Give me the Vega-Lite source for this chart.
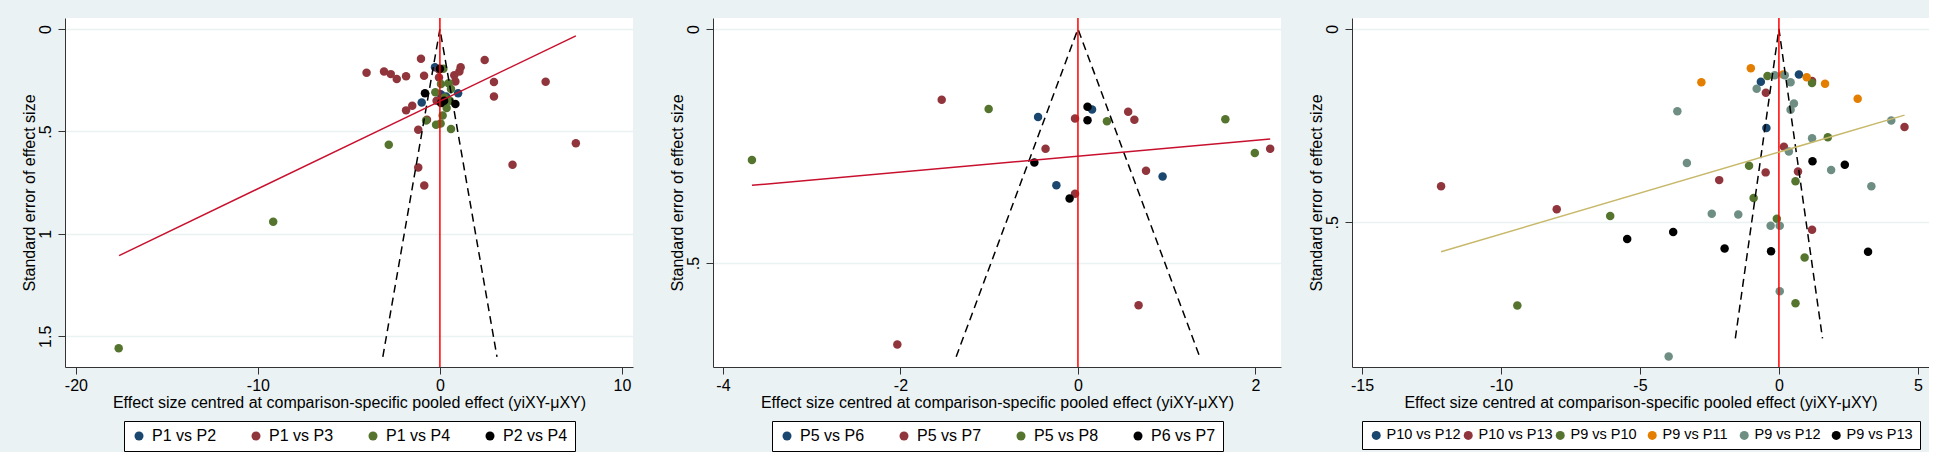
{
  "$schema": "https://vega.github.io/schema/vega-lite/v6.json",
  "padding": {"left": 21, "top": 17, "right": 0, "bottom": 0},
  "background": "#EAF2F3",
  "datasets": {
    "pts1": [
      {"x": -0.27, "se": 0.187, "c": "P1 vs P2"},
      {"x": -1.0, "se": 0.358, "c": "P1 vs P2"},
      {"x": 1.0, "se": 0.313, "c": "P1 vs P2"},
      {"x": 0.34, "se": 0.329, "c": "P1 vs P2"},
      {"x": 0.05, "se": 0.318, "c": "P1 vs P2"},
      {"x": -4.03, "se": 0.213, "c": "P1 vs P3"},
      {"x": -3.07, "se": 0.207, "c": "P1 vs P3"},
      {"x": -2.70, "se": 0.22, "c": "P1 vs P3"},
      {"x": -2.37, "se": 0.244, "c": "P1 vs P3"},
      {"x": -1.86, "se": 0.23, "c": "P1 vs P3"},
      {"x": -1.04, "se": 0.145, "c": "P1 vs P3"},
      {"x": -0.87, "se": 0.228, "c": "P1 vs P3"},
      {"x": -0.05, "se": 0.198, "c": "P1 vs P3"},
      {"x": -0.05, "se": 0.236, "c": "P1 vs P3"},
      {"x": 0.79, "se": 0.226, "c": "P1 vs P3"},
      {"x": 1.14, "se": 0.187, "c": "P1 vs P3"},
      {"x": 1.07, "se": 0.207, "c": "P1 vs P3"},
      {"x": 0.85, "se": 0.256, "c": "P1 vs P3"},
      {"x": 2.46, "se": 0.151, "c": "P1 vs P3"},
      {"x": 2.97, "se": 0.259, "c": "P1 vs P3"},
      {"x": 5.81, "se": 0.257, "c": "P1 vs P3"},
      {"x": 2.97, "se": 0.329, "c": "P1 vs P3"},
      {"x": -0.18, "se": 0.35, "c": "P1 vs P3"},
      {"x": -1.52, "se": 0.374, "c": "P1 vs P3"},
      {"x": -1.86, "se": 0.397, "c": "P1 vs P3"},
      {"x": -0.71, "se": 0.443, "c": "P1 vs P3"},
      {"x": -1.19, "se": 0.492, "c": "P1 vs P3"},
      {"x": 7.47, "se": 0.557, "c": "P1 vs P3"},
      {"x": 3.99, "se": 0.663, "c": "P1 vs P3"},
      {"x": -1.19, "se": 0.676, "c": "P1 vs P3"},
      {"x": -0.86, "se": 0.764, "c": "P1 vs P3"},
      {"x": 0.19, "se": 0.194, "c": "P1 vs P4"},
      {"x": 0.06, "se": 0.268, "c": "P1 vs P4"},
      {"x": 0.48, "se": 0.264, "c": "P1 vs P4"},
      {"x": 0.61, "se": 0.293, "c": "P1 vs P4"},
      {"x": -0.25, "se": 0.309, "c": "P1 vs P4"},
      {"x": 0.26, "se": 0.334, "c": "P1 vs P4"},
      {"x": 0.55, "se": 0.35, "c": "P1 vs P4"},
      {"x": 0.37, "se": 0.386, "c": "P1 vs P4"},
      {"x": 0.15, "se": 0.422, "c": "P1 vs P4"},
      {"x": -0.76, "se": 0.446, "c": "P1 vs P4"},
      {"x": -0.21, "se": 0.467, "c": "P1 vs P4"},
      {"x": 0.04, "se": 0.461, "c": "P1 vs P4"},
      {"x": 0.61, "se": 0.488, "c": "P1 vs P4"},
      {"x": -2.81, "se": 0.565, "c": "P1 vs P4"},
      {"x": -9.16, "se": 0.941, "c": "P1 vs P4"},
      {"x": -17.65, "se": 1.559, "c": "P1 vs P4"},
      {"x": 0.0, "se": 0.194, "c": "P2 vs P4"},
      {"x": -0.82, "se": 0.313, "c": "P2 vs P4"},
      {"x": 0.06, "se": 0.361, "c": "P2 vs P4"},
      {"x": 0.23, "se": 0.35, "c": "P2 vs P4"},
      {"x": 0.85, "se": 0.366, "c": "P2 vs P4"}
    ],
    "lines1": [
      {"x": -3.136, "se": 1.6, "o": 1, "k": "funnel"},
      {"x": 0, "se": 0, "o": 2, "k": "funnel"},
      {"x": 3.136, "se": 1.6, "o": 3, "k": "funnel"},
      {"x": -17.63, "se": 1.106, "o": 1, "k": "fit"},
      {"x": 7.47, "se": 0.033, "o": 2, "k": "fit"}
    ],
    "pts2": [
      {"x": -0.449, "se": 0.188, "c": "P5 vs P6"},
      {"x": 0.159, "se": 0.172, "c": "P5 vs P6"},
      {"x": -0.243, "se": 0.334, "c": "P5 vs P6"},
      {"x": 0.954, "se": 0.315, "c": "P5 vs P6"},
      {"x": -1.535, "se": 0.151, "c": "P5 vs P7"},
      {"x": -0.033, "se": 0.191, "c": "P5 vs P7"},
      {"x": 0.566, "se": 0.177, "c": "P5 vs P7"},
      {"x": 0.636, "se": 0.194, "c": "P5 vs P7"},
      {"x": -0.365, "se": 0.256, "c": "P5 vs P7"},
      {"x": 2.166, "se": 0.256, "c": "P5 vs P7"},
      {"x": 0.767, "se": 0.303, "c": "P5 vs P7"},
      {"x": -0.033, "se": 0.352, "c": "P5 vs P7"},
      {"x": 0.683, "se": 0.59, "c": "P5 vs P7"},
      {"x": -2.035, "se": 0.674, "c": "P5 vs P7"},
      {"x": -1.006, "se": 0.171, "c": "P5 vs P8"},
      {"x": 0.327, "se": 0.197, "c": "P5 vs P8"},
      {"x": 1.661, "se": 0.193, "c": "P5 vs P8"},
      {"x": -3.673, "se": 0.28, "c": "P5 vs P8"},
      {"x": 1.993, "se": 0.265, "c": "P5 vs P8"},
      {"x": 0.108, "se": 0.166, "c": "P6 vs P7"},
      {"x": 0.108, "se": 0.195, "c": "P6 vs P7"},
      {"x": -0.491, "se": 0.285, "c": "P6 vs P7"},
      {"x": -0.094, "se": 0.362, "c": "P6 vs P7"}
    ],
    "lines2": [
      {"x": -1.372, "se": 0.7, "o": 1, "k": "funnel"},
      {"x": 0, "se": 0, "o": 2, "k": "funnel"},
      {"x": 1.372, "se": 0.7, "o": 3, "k": "funnel"},
      {"x": -3.673, "se": 0.334, "o": 1, "k": "fit"},
      {"x": 2.166, "se": 0.235, "o": 2, "k": "fit"}
    ],
    "pts3": [
      {"x": -0.65, "se": 0.137, "c": "P10 vs P12"},
      {"x": 0.72, "se": 0.118, "c": "P10 vs P12"},
      {"x": -0.45, "se": 0.256, "c": "P10 vs P12"},
      {"x": -0.47, "se": 0.165, "c": "P10 vs P13"},
      {"x": 1.193, "se": 0.135, "c": "P10 vs P13"},
      {"x": 4.519, "se": 0.254, "c": "P10 vs P13"},
      {"x": 0.179, "se": 0.305, "c": "P10 vs P13"},
      {"x": -0.477, "se": 0.371, "c": "P10 vs P13"},
      {"x": 0.686, "se": 0.369, "c": "P10 vs P13"},
      {"x": -2.148, "se": 0.391, "c": "P10 vs P13"},
      {"x": -12.155, "se": 0.407, "c": "P10 vs P13"},
      {"x": -7.994, "se": 0.466, "c": "P10 vs P13"},
      {"x": 1.193, "se": 0.519, "c": "P10 vs P13"},
      {"x": -0.41, "se": 0.122, "c": "P9 vs P10"},
      {"x": 1.19, "se": 0.14, "c": "P9 vs P10"},
      {"x": 1.76, "se": 0.28, "c": "P9 vs P10"},
      {"x": -1.074, "se": 0.354, "c": "P9 vs P10"},
      {"x": 0.597, "se": 0.394, "c": "P9 vs P10"},
      {"x": -0.91, "se": 0.437, "c": "P9 vs P10"},
      {"x": -6.07, "se": 0.484, "c": "P9 vs P10"},
      {"x": -0.075, "se": 0.491, "c": "P9 vs P10"},
      {"x": 0.925, "se": 0.591, "c": "P9 vs P10"},
      {"x": -9.411, "se": 0.715, "c": "P9 vs P10"},
      {"x": 0.597, "se": 0.709, "c": "P9 vs P10"},
      {"x": -1.01, "se": 0.102, "c": "P9 vs P11"},
      {"x": -2.79, "se": 0.138, "c": "P9 vs P11"},
      {"x": 0.15, "se": 0.118, "c": "P9 vs P11"},
      {"x": 1.0, "se": 0.125, "c": "P9 vs P11"},
      {"x": 1.66, "se": 0.142, "c": "P9 vs P11"},
      {"x": 2.834, "se": 0.181, "c": "P9 vs P11"},
      {"x": -0.15, "se": 0.12, "c": "P9 vs P12"},
      {"x": 0.21, "se": 0.12, "c": "P9 vs P12"},
      {"x": 0.42, "se": 0.138, "c": "P9 vs P12"},
      {"x": -0.8, "se": 0.155, "c": "P9 vs P12"},
      {"x": 0.54, "se": 0.193, "c": "P9 vs P12"},
      {"x": 0.42, "se": 0.209, "c": "P9 vs P12"},
      {"x": -3.654, "se": 0.213, "c": "P9 vs P12"},
      {"x": 4.042, "se": 0.237, "c": "P9 vs P12"},
      {"x": 1.193, "se": 0.283, "c": "P9 vs P12"},
      {"x": 0.358, "se": 0.317, "c": "P9 vs P12"},
      {"x": -3.311, "se": 0.347, "c": "P9 vs P12"},
      {"x": 1.879, "se": 0.365, "c": "P9 vs P12"},
      {"x": 3.326, "se": 0.407, "c": "P9 vs P12"},
      {"x": -2.416, "se": 0.478, "c": "P9 vs P12"},
      {"x": -1.462, "se": 0.48, "c": "P9 vs P12"},
      {"x": -0.298, "se": 0.509, "c": "P9 vs P12"},
      {"x": 0.03, "se": 0.509, "c": "P9 vs P12"},
      {"x": 0.03, "se": 0.678, "c": "P9 vs P12"},
      {"x": -3.967, "se": 0.847, "c": "P9 vs P12"},
      {"x": 1.208, "se": 0.342, "c": "P9 vs P13"},
      {"x": 2.371, "se": 0.351, "c": "P9 vs P13"},
      {"x": -3.803, "se": 0.525, "c": "P9 vs P13"},
      {"x": -5.459, "se": 0.543, "c": "P9 vs P13"},
      {"x": -1.954, "se": 0.568, "c": "P9 vs P13"},
      {"x": -0.283, "se": 0.575, "c": "P9 vs P13"},
      {"x": 3.207, "se": 0.576, "c": "P9 vs P13"}
    ],
    "lines3": [
      {"x": -1.568, "se": 0.8, "o": 1, "k": "funnel"},
      {"x": 0, "se": 0, "o": 2, "k": "funnel"},
      {"x": 1.568, "se": 0.8, "o": 3, "k": "funnel"},
      {"x": -12.155, "se": 0.576, "o": 1, "k": "fit"},
      {"x": 4.519, "se": 0.223, "o": 2, "k": "fit"}
    ]
  },
  "spacing": 27,
  "resolve": {"scale": {"x": "independent", "y": "independent", "color": "independent"}, "legend": {"color": "independent"}},
  "hconcat": [
    {
      "spacing": 36,
      "resolve": {"scale": {"x": "independent", "y": "independent", "color": "independent"}, "legend": {"color": "independent"}},
      "hconcat": [
        {
          "width": 568,
          "height": 349,
          "layer": [
            {
              "data": {"name": "pts1"},
              "mark": {"type": "circle", "size": 72, "opacity": 1},
              "encoding": {
                "x": {"field": "x", "type": "quantitative", "scale": {"domain": [-20.6, 10.61], "nice": false, "zero": false}, "axis": {"values": [-20, -10, 0, 10], "labelExpr": "toString(datum.value)", "title": "Effect size centred at comparison-specific pooled effect (yiXY-μXY)", "grid": false}},
                "y": {"field": "se", "type": "quantitative", "scale": {"domain": [-0.054, 1.65], "reverse": true, "nice": false, "zero": false}, "axis": {"values": [0, 0.5, 1, 1.5], "labelExpr": "datum.value == 0.5 ? '.5' : toString(datum.value)", "title": "Standard error of effect size", "grid": true}},
                "color": {"field": "c", "type": "nominal", "scale": {"domain": ["P1 vs P2", "P1 vs P3", "P1 vs P4", "P2 vs P4"], "range": ["#1A476F", "#90353B", "#55752F", "#000000"]}, "legend": {"columnPadding": 31}}
              }
            },
            {
              "data": {"name": "lines1"},
              "transform": [{"filter": "datum.k == 'funnel'"}],
              "mark": {"type": "line", "color": "black", "strokeDash": [8, 5], "strokeWidth": 1.5},
              "encoding": {"x": {"field": "x", "type": "quantitative"}, "y": {"field": "se", "type": "quantitative"}, "order": {"field": "o"}}
            },
            {
              "data": {"values": [{"z": 0}]},
              "mark": {"type": "rule", "color": "#FF0000", "strokeWidth": 1.5},
              "encoding": {"x": {"field": "z", "type": "quantitative"}}
            },
            {
              "data": {"name": "lines1"},
              "transform": [{"filter": "datum.k == 'fit'"}],
              "mark": {"type": "line", "color": "#C8102E", "strokeWidth": 1.5},
              "encoding": {"x": {"field": "x", "type": "quantitative"}, "y": {"field": "se", "type": "quantitative"}, "order": {"field": "o"}}
            }
          ]
        },
        {
          "width": 568,
          "height": 349,
          "layer": [
            {
              "data": {"name": "pts2"},
              "mark": {"type": "circle", "size": 72, "opacity": 1},
              "encoding": {
                "x": {"field": "x", "type": "quantitative", "scale": {"domain": [-4.112, 2.288], "nice": false, "zero": false}, "axis": {"values": [-4, -2, 0, 2], "labelExpr": "toString(datum.value)", "title": "Effect size centred at comparison-specific pooled effect (yiXY-μXY)", "grid": false}},
                "y": {"field": "se", "type": "quantitative", "scale": {"domain": [-0.0235, 0.722], "reverse": true, "nice": false, "zero": false}, "axis": {"values": [0, 0.5], "labelExpr": "datum.value == 0.5 ? '.5' : toString(datum.value)", "title": "Standard error of effect size", "grid": true}},
                "color": {"field": "c", "type": "nominal", "scale": {"domain": ["P5 vs P6", "P5 vs P7", "P5 vs P8", "P6 vs P7"], "range": ["#1A476F", "#90353B", "#55752F", "#000000"]}, "legend": {"columnPadding": 31}}
              }
            },
            {
              "data": {"name": "lines2"},
              "transform": [{"filter": "datum.k == 'funnel'"}],
              "mark": {"type": "line", "color": "black", "strokeDash": [8, 5], "strokeWidth": 1.5},
              "encoding": {"x": {"field": "x", "type": "quantitative"}, "y": {"field": "se", "type": "quantitative"}, "order": {"field": "o"}}
            },
            {
              "data": {"values": [{"z": 0}]},
              "mark": {"type": "rule", "color": "#FF0000", "strokeWidth": 1.5},
              "encoding": {"x": {"field": "z", "type": "quantitative"}}
            },
            {
              "data": {"name": "lines2"},
              "transform": [{"filter": "datum.k == 'fit'"}],
              "mark": {"type": "line", "color": "#C8102E", "strokeWidth": 1.5},
              "encoding": {"x": {"field": "x", "type": "quantitative"}, "y": {"field": "se", "type": "quantitative"}, "order": {"field": "o"}}
            }
          ]
        }
      ]
    },
    {
      "width": 577,
      "height": 349,
      "layer": [
        {
          "data": {"name": "pts3"},
          "mark": {"type": "circle", "size": 72, "opacity": 1},
          "encoding": {
            "x": {"field": "x", "type": "quantitative", "scale": {"domain": [-15.36, 5.4], "nice": false, "zero": false}, "axis": {"values": [-15, -10, -5, 0, 5], "labelExpr": "toString(datum.value)", "title": "Effect size centred at comparison-specific pooled effect (yiXY-μXY)", "grid": false}},
            "y": {"field": "se", "type": "quantitative", "scale": {"domain": [-0.028, 0.874], "reverse": true, "nice": false, "zero": false}, "axis": {"values": [0, 0.5], "labelExpr": "datum.value == 0.5 ? '.5' : toString(datum.value)", "title": "Standard error of effect size", "grid": true}},
            "color": {"field": "c", "type": "nominal", "scale": {"domain": ["P10 vs P12", "P10 vs P13", "P9 vs P10", "P9 vs P11", "P9 vs P12", "P9 vs P13"], "range": ["#1A476F", "#90353B", "#55752F", "#E37E00", "#6E8E84", "#000000"]}, "legend": {"columnPadding": -1, "labelFontSize": 14.5, "labelOffset": 3, "columns": 6, "gridAlign": "all"}}
          }
        },
        {
          "data": {"name": "lines3"},
          "transform": [{"filter": "datum.k == 'funnel'"}],
          "mark": {"type": "line", "color": "black", "strokeDash": [8, 5], "strokeWidth": 1.5},
          "encoding": {"x": {"field": "x", "type": "quantitative"}, "y": {"field": "se", "type": "quantitative"}, "order": {"field": "o"}}
        },
        {
          "data": {"values": [{"z": 0}]},
          "mark": {"type": "rule", "color": "#FF0000", "strokeWidth": 1.5},
          "encoding": {"x": {"field": "z", "type": "quantitative"}}
        },
        {
          "data": {"name": "lines3"},
          "transform": [{"filter": "datum.k == 'fit'"}],
          "mark": {"type": "line", "color": "#C7B86A", "strokeWidth": 1.5},
          "encoding": {"x": {"field": "x", "type": "quantitative"}, "y": {"field": "se", "type": "quantitative"}, "order": {"field": "o"}}
        }
      ]
    }
  ],
  "config": {
    "font": "Liberation Sans",
    "view": {"fill": "white", "stroke": null},
    "axis": {
      "labelFont": "Liberation Sans",
      "titleFont": "Liberation Sans",
      "labelFontSize": 16,
      "titleFontSize": 16,
      "titleFontWeight": "normal",
      "labelColor": "black",
      "titleColor": "black",
      "domainColor": "#333333",
      "tickColor": "#333333",
      "domainWidth": 1,
      "tickWidth": 1,
      "tickSize": 7,
      "gridColor": "#EAF2F3",
      "gridWidth": 1.5,
      "labelFlush": false,
      "labelOverlap": false
    },
    "axisX": {"labelPadding": 3, "titlePadding": 1},
    "axisY": {"labelAngle": -90, "labelAlign": "center", "labelBaseline": "bottom", "labelPadding": 4.5, "minExtent": 27, "maxExtent": 27, "titlePadding": 1},
    "legend": {
      "orient": "bottom",
      "direction": "horizontal",
      "title": null,
      "strokeColor": "black",
      "fillColor": "white",
      "padding": 7,
      "offset": 11,
      "labelFont": "Liberation Sans",
      "labelFontSize": 16,
      "labelColor": "black",
      "labelOffset": 5,
      "symbolType": "circle",
      "symbolSize": 81,
      "symbolStrokeWidth": 0,
      "labelLimit": 300,
      "layout": {"bottom": {"anchor": "middle"}}
    }
  }
}
